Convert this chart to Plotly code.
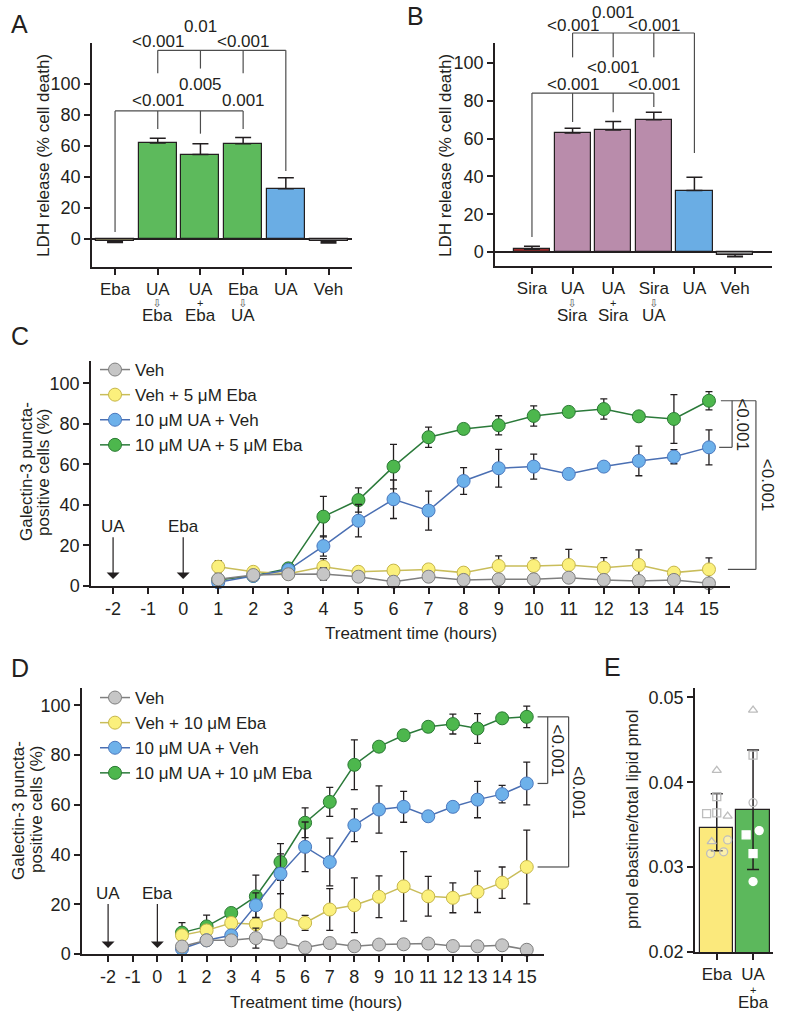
import plotly.graph_objects as go

W, H = 785, 1020
FONT = "Liberation Sans, Arial, Helvetica, sans-serif"
INK = "#231f20"
BRK = "#4d4d4d"
FS = 17
TFS = 18

# ---------------- panel A: LDH release with ebastine ----------------
a_labels = ["Eba", "UA", "UA", "Eba", "UA", "Veh"]
a_mid = ["", "⇩", "+", "⇩", "", ""]
a_low = ["", "Eba", "Eba", "UA", "", ""]
a_ldh = [-1.5, 62.0, 54.5, 61.5, 32.5, -1.5]
a_err_up = [0, 3.0, 7.0, 4.0, 7.0, 0]
a_err_dn = [0.7, 0, 0, 0, 0, 1.0]
a_colors = ["#8a8660", "#5dba5c", "#5dba5c", "#5dba5c", "#6aade4", "#8c8c8c"]
# (bracket height, [(bar, leg end), ...])
a_brackets = [(121.8, [(1, 107), (2, 110), (3, 107), (4, 44)]),
              (82.7, [(0, 4.5), (1, 71), (2, 68), (3, 71)])]
a_pvals = [(1, 127.6, "<0.001"), (2, 137.0, "0.01"), (3, 127.6, "<0.001"),
           (1, 89.7, "<0.001"), (2, 100.0, "0.005"), (3, 89.7, "0.001")]

# ---------------- panel B: LDH release with siramesine ----------------
b_labels = ["Sira", "UA", "UA", "Sira", "UA", "Veh"]
b_mid = ["", "⇩", "+", "⇩", "", ""]
b_low = ["", "Sira", "Sira", "UA", "", ""]
b_ldh = [1.5, 63.0, 64.5, 70.0, 32.5, -1.5]
b_err_up = [1.5, 2.5, 4.5, 4.0, 7.0, 0]
b_err_dn = [0, 0, 0, 0, 0, 1.0]
b_colors = ["#9b2b2b", "#b98cab", "#b98cab", "#b98cab", "#6aade4", "#8c8c8c"]
b_brackets = [(115.9, [(1, 103), (2, 103), (3, 103), (4, 52.4)]),
              (84.1, [(0, 7.9), (1, 68.8), (2, 74), (3, 76.7)])]
b_pvals = [(1, 119.6, "<0.001"), (2, 127.0, "0.001"), (3, 119.6, "<0.001"),
           (1, 88.9, "<0.001"), (2, 97.4, "<0.001"), (3, 88.9, "<0.001")]

# ---------------- panels C / D: galectin-3 puncta time course ----------------
hours = list(range(1, 16))
hour_ticks = list(range(-2, 16))
events = [(-2, "UA"), (0, "Eba")]

c_veh = [3.3, 5.4, 5.8, 5.9, 4.6, 2.1, 4.6, 3.0, 3.3, 3.3, 4.1, 3.0, 2.5, 3.0, 1.3]
c_veh_err = [1, 1, 1, 3, 1, 1, 1, 1, 1, 1, 1, 1, 1, 1, 1]
c_eba = [9.5, 7.0, 6.0, 9.5, 7.0, 7.6, 8.2, 6.6, 9.9, 9.9, 10.4, 9.0, 10.4, 6.6, 8.2]
c_eba_err = [3, 1, 1, 4, 2, 1, 1, 1, 5, 4, 7.7, 5, 7.4, 1, 5.7]
c_ua = [1.8, 5.0, 8.0, 19.7, 32.2, 42.8, 37.2, 51.8, 58.1, 58.9, 55.3, 58.9, 61.7, 63.8, 68.4]
c_ua_err = [1, 1, 1, 5, 8, 9.5, 9.6, 6.6, 9.3, 6.2, 2, 2, 7.3, 3.5, 8.6]
c_both = [3.0, 5.0, 8.7, 34.2, 42.4, 58.9, 73.4, 77.5, 79.3, 83.9, 85.9, 87.3, 83.7, 82.4, 91.4]
c_both_err = [1, 1, 1, 10, 6, 11, 5, 2, 4.7, 5, 2, 5, 2, 12, 4.5]
c_names = ["Veh", "Veh + 5 μM Eba", "10 μM UA + Veh", "10 μM UA + 5 μM Eba"]

d_veh = [3.0, 5.5, 5.5, 6.4, 4.8, 2.6, 4.4, 3.1, 3.8, 3.9, 4.2, 3.2, 3.1, 3.5, 1.7]
d_veh_err = [1, 1, 1, 4, 1, 1, 1, 1, 1, 1.5, 1, 1, 1, 1, 2]
d_eba = [7.5, 9.5, 12.5, 12.0, 15.6, 12.5, 17.9, 19.6, 23.0, 27.2, 23.2, 22.6, 25.0, 28.7, 35.0]
d_eba_err = [2, 2, 2, 2, 8.7, 3, 8.4, 11, 8.4, 14, 8, 6, 8.3, 6.3, 14.8]
d_ua = [2.1, 5.5, 7.5, 19.6, 32.3, 43.1, 37.0, 51.8, 58.1, 59.2, 55.4, 59.2, 62.1, 64.3, 68.6]
d_ua_err = [1, 1, 1, 5, 8, 10, 9.6, 6.6, 9.5, 6.2, 2, 2, 7.3, 3.5, 8.6]
d_both = [8.6, 11.1, 16.5, 23.2, 37.0, 52.8, 61.2, 76.1, 83.4, 88.0, 91.4, 92.5, 90.7, 94.8, 95.4]
d_both_err = [4, 4.5, 1.5, 8.5, 7.4, 6, 5.8, 10, 2, 2, 2, 4, 6, 2, 4.3]
d_names = ["Veh", "Veh + 10 μM Eba", "10 μM UA + Veh", "10 μM UA + 10 μM Eba"]

# ---------------- panel E: ebastine in lipid extracts ----------------
e_labels = ["Eba", "UA"]
e_mid = ["", "+"]
e_low = ["", "Eba"]
e_mean = [0.03463, 0.03671]
e_err_up = [0.0040, 0.0071]
e_err_dn = [0.0027, 0.0070]
e_eba_pts = [0.0414, 0.0360, 0.0330, 0.0383, 0.0363, 0.0364, 0.0332, 0.0316, 0.0318]
e_eba_sym = ["triangle-up"] * 3 + ["square"] * 3 + ["circle"] * 3
e_eba_dx = [0, 0.30, -0.14, 0, -0.28, 0, 0.30, -0.17, 0.19]
e_combo_pts = [0.0485, 0.0432, 0.0376, 0.0338, 0.0316, 0.0343, 0.0283]
e_combo_sym = ["triangle-up", "square", "circle", "square", "square", "circle", "circle"]
e_combo_dx = [0, 0, 0, -0.19, 0, 0.17, 0]
e_combo_solid = [False, False, False, True, True, True, True]

# axis ranges
A_XR, A_YR = [-0.54, 5.55], [-18, 126.5]
B_XR, B_YR = [-0.91, 5.91], [-7.4, 110.6]
C_XR, C_YR = [-2.63, 15.6], [0, 111]
D_XR, D_YR = [-3.06, 15.7], [0, 107]
E_XR, E_YR = [-0.6, 1.55], [0.02, 0.0511]

STYLE = {
    "veh": ("#c6c6c6", "#7f7f7f", "#7f7f7f"),
    "eba": ("#fbf07c", "#c6b64a", "#c9bd5a"),
    "ua": ("#6db1ea", "#4b79bf", "#4a6fb3"),
    "both": ("#4db74d", "#2b7a34", "#2b7a3a"),
}


def frac(v, rng):
    return (v - rng[0]) / (rng[1] - rng[0])


def xdom(p0, p1):
    return [p0 / W, p1 / W]


def ydom(top, bottom):
    return [1 - bottom / H, 1 - top / H]


fig = go.Figure()
shapes, annos = [], []


def note(**kw):
    base = dict(showarrow=False, xanchor="center", yanchor="middle",
                font=dict(size=FS, color=INK, family=FONT))
    base.update(kw)
    annos.append(base)


def line_dom(ax, x0, y0, x1, y1, color=BRK, width=1.2):
    xa, ya, xr, yr = ax
    shapes.append(dict(type="line", xref=f"{xa} domain", yref=f"{ya} domain",
                       x0=frac(x0, xr), x1=frac(x1, xr), y0=frac(y0, yr), y1=frac(y1, yr),
                       line=dict(color=color, width=width)))


def text_dom(ax, x, y, text, angle=0):
    xa, ya, xr, yr = ax
    note(xref=f"{xa} domain", yref=f"{ya} domain", x=frac(x, xr), y=frac(y, yr),
         text=text, textangle=angle)


def text_px(px, py, text, size=FS, angle=0):
    note(xref="paper", yref="paper", x=px / W, y=1 - py / H, text=text, textangle=angle,
         font=dict(size=size, color=INK, family=FONT))


def sublabel(xa, p, mid, low, top_px):
    # second and third line of a category label, packed tighter than tick text
    if mid == "⇩":
        mid = f"<span style='font-family:DejaVu Sans;color:#555'>{mid}</span>"
    note(xref=xa, yref="paper", x=p, y=1 - top_px / H, yanchor="top",
         text=f"{mid}<br><span style='font-size:{FS}px'>{low}</span>",
         font=dict(size=11, color=INK, family=FONT))


# ---- bar panels A and B
for (xa, ya), labels, mids, lows, vals, eu, ed, cols, brs, pv, xr, yr in [
    (("x", "y"), a_labels, a_mid, a_low, a_ldh, a_err_up, a_err_dn, a_colors,
     a_brackets, a_pvals, A_XR, A_YR),
    (("x2", "y2"), b_labels, b_mid, b_low, b_ldh, b_err_up, b_err_dn, b_colors,
     b_brackets, b_pvals, B_XR, B_YR),
]:
    pos = list(range(len(labels)))
    fig.add_trace(go.Bar(
        x=pos, y=vals, width=0.89, xaxis=xa, yaxis=ya, showlegend=False,
        marker=dict(color=cols, line=dict(color=INK, width=1.2)),
        error_y=dict(type="data", symmetric=False, array=eu, arrayminus=ed,
                     color=INK, thickness=1.5, width=8)))
    ax = (xa, ya, xr, yr)
    for ytop, legs in brs:
        xs = [p for p, _ in legs]
        line_dom(ax, min(xs), ytop, max(xs), ytop)
        for p, yend in legs:
            line_dom(ax, p, ytop, p, yend)
    for p, yv, t in pv:
        text_dom(ax, p, yv, t)
    for p, m, lo in zip(pos, mids, lows):
        if m:
            sublabel(xa, p, m, lo, 295)

# ---- time course panels C and D
series_keys = ["both", "eba", "ua", "veh"]  # drawing order (Veh on top)
rank = {"veh": 1, "eba": 2, "ua": 3, "both": 4}
for (xa, ya), legend, names, data, tips in [
    (("x3", "y3"), "legend", c_names,
     {"veh": (c_veh, c_veh_err), "eba": (c_eba, c_eba_err),
      "ua": (c_ua, c_ua_err), "both": (c_both, c_both_err)}, (3.5, 29.5)),
    (("x4", "y4"), "legend2", d_names,
     {"veh": (d_veh, d_veh_err), "eba": (d_eba, d_eba_err),
      "ua": (d_ua, d_ua_err), "both": (d_both, d_both_err)}, (2.4, 24.5)),
]:
    for key in series_keys:
        fill, edge, lc = STYLE[key]
        ys, err = data[key]
        fig.add_trace(go.Scatter(
            x=hours, y=ys, mode="lines+markers", name=names[rank[key] - 1],
            legend=legend, legendrank=rank[key], xaxis=xa, yaxis=ya, cliponaxis=False,
            line=dict(color=lc, width=1.5),
            marker=dict(size=13, color=fill, line=dict(color=edge, width=1)),
            error_y=dict(type="data", array=err, color=INK, thickness=1.3, width=3.5)))
    for t, lab in events:
        annos.append(dict(xref=xa, yref=ya, axref=xa, ayref=ya, x=t, y=tips[0], ax=t,
                          ay=tips[1], text=lab, showarrow=True, arrowhead=1, arrowsize=1.8,
                          arrowwidth=1.2, arrowcolor=INK, standoff=0,
                          font=dict(size=FS, color=INK, family=FONT)))

# significance brackets right of the time courses
cax = ("x3", "y3", C_XR, C_YR)
line_dom(cax, 15.34, c_both[-1], 16.34, c_both[-1])
line_dom(cax, 15.66, c_both[-1], 15.66, c_ua[-1])
line_dom(cax, 15.29, c_ua[-1], 15.66, c_ua[-1])
line_dom(cax, 16.34, c_both[-1], 16.34, c_eba[-1])
line_dom(cax, 15.54, c_eba[-1], 16.34, c_eba[-1])
text_dom(cax, 15.96, (c_both[-1] + c_ua[-1]) / 2, "<0.001", angle=90)
text_dom(cax, 16.69, (c_both[-1] + c_eba[-1]) / 2, "<0.001", angle=90)

dax = ("x4", "y4", D_XR, D_YR)
line_dom(dax, 15.44, d_both[-1], 16.7, d_both[-1])
line_dom(dax, 15.85, d_both[-1], 15.85, d_ua[-1])
line_dom(dax, 15.44, d_ua[-1], 15.85, d_ua[-1])
line_dom(dax, 16.7, d_both[-1], 16.7, d_eba[-1])
line_dom(dax, 15.44, d_eba[-1], 16.7, d_eba[-1])
text_dom(dax, 16.25, (d_both[-1] + d_ua[-1]) / 2, "<0.001", angle=90)
text_dom(dax, 17.07, (d_both[-1] + d_eba[-1]) / 2, "<0.001", angle=90)

# ---- panel E
fig.add_trace(go.Bar(
    x=[0, 1], y=e_mean, width=0.92, xaxis="x5", yaxis="y5", showlegend=False,
    marker=dict(color=["#fbe97c", "#5cb85c"], line=dict(color=INK, width=1.2)),
    error_y=dict(type="data", symmetric=False, array=e_err_up, arrayminus=e_err_dn,
                 color=INK, thickness=1.5, width=6)))
fig.add_trace(go.Scatter(
    x=[0 + d for d in e_eba_dx], y=e_eba_pts, mode="markers", xaxis="x5", yaxis="y5",
    showlegend=False,
    marker=dict(symbol=e_eba_sym, size=8, color="rgba(255,255,255,0.35)",
                line=dict(color="#bdbdbd", width=1.3))))
fig.add_trace(go.Scatter(
    x=[1 + d for d in e_combo_dx], y=e_combo_pts, mode="markers", xaxis="x5", yaxis="y5",
    showlegend=False,
    marker=dict(symbol=e_combo_sym, size=8,
                color=["white" if s else "rgba(0,0,0,0)" for s in e_combo_solid],
                line=dict(color=["white" if s else "#bdbdbd" for s in e_combo_solid],
                          width=1.3))))
for p, (m, lo) in enumerate(zip(e_mid, e_low)):
    if m:
        sublabel("x5", p, m, lo, 982)

# ---- titles and panel letters
text_px(43, 156, "LDH release (% cell death)", angle=-90)
text_px(445, 156, "LDH release (% cell death)", angle=-90)
text_px(26, 472, "Galectin-3 puncta-", angle=-90)
text_px(43, 472, "positive cells (%)", angle=-90)
text_px(18, 811, "Galectin-3 puncta-", angle=-90)
text_px(36, 809, "positive cells (%)", angle=-90)
text_px(632, 820, "pmol ebastine/total lipid pmol", angle=-90)
text_px(411, 633, "Treatment time (hours)")
text_px(316, 1002, "Treatment time (hours)")
for letter, px, py in [("A", 19, 24), ("B", 415, 16), ("C", 20, 336), ("D", 20, 668), ("E", 612, 667)]:
    text_px(px, py, letter, size=25)


def axis(domain, rng, anchor, **kw):
    d = dict(domain=domain, range=rng, anchor=anchor, showline=True, linecolor=INK,
             linewidth=1.5, ticks="outside", ticklen=6, tickwidth=1.5, tickcolor=INK,
             showgrid=False, zeroline=False, automargin=False,
             tickfont=dict(size=TFS, color=INK))
    d.update(kw)
    return d


zl = dict(zeroline=True, zerolinecolor=INK, zerolinewidth=1.5)
legend_common = dict(font=dict(size=FS, color=INK), bgcolor="rgba(0,0,0,0)",
                     xanchor="left", yanchor="top", tracegroupgap=0)
hour_text = [str(t) for t in hour_ticks]

fig.update_layout(
    width=W, height=H, margin=dict(l=0, r=0, t=0, b=0),
    paper_bgcolor="white", plot_bgcolor="white",
    font=dict(family=FONT, size=FS, color=INK),
    bargap=0,
    xaxis=axis(xdom(92, 352), A_XR, "y", tickvals=list(range(6)), ticktext=a_labels,
               tickfont=dict(size=FS, color=INK)),
    yaxis=axis(ydom(43, 267), A_YR, "x", tickvals=[0, 20, 40, 60, 80, 100], **zl),
    xaxis2=axis(xdom(495, 772), B_XR, "y2", tickvals=list(range(6)), ticktext=b_labels,
                tickfont=dict(size=FS, color=INK)),
    yaxis2=axis(ydom(43, 266), B_YR, "x2", tickvals=[0, 20, 40, 60, 80, 100], **zl),
    xaxis3=axis(xdom(91, 730), C_XR, "y3", tickvals=hour_ticks, ticktext=hour_text),
    yaxis3=axis(ydom(361, 586), C_YR, "x3", tickvals=[0, 20, 40, 60, 80, 100]),
    xaxis4=axis(xdom(82, 544), D_XR, "y4", tickvals=hour_ticks, ticktext=hour_text),
    yaxis4=axis(ydom(688, 954), D_YR, "x4", tickvals=[0, 20, 40, 60, 80, 100]),
    xaxis5=axis(xdom(695, 773), E_XR, "y5", tickvals=[0, 1], ticktext=e_labels,
                tickfont=dict(size=FS, color=INK)),
    yaxis5=axis(ydom(688, 952), E_YR, "x5", tickvals=[0.02, 0.03, 0.04, 0.05],
                tickformat=".2f"),
    legend=dict(x=95 / W, y=1 - 352 / H, **legend_common),
    legend2=dict(x=95 / W, y=1 - 680 / H, **legend_common),
    shapes=shapes, annotations=annos,
)

fig.write_html("out.html", config={"displayModeBar": False},
               post_script="document.body.style.margin='0';")
